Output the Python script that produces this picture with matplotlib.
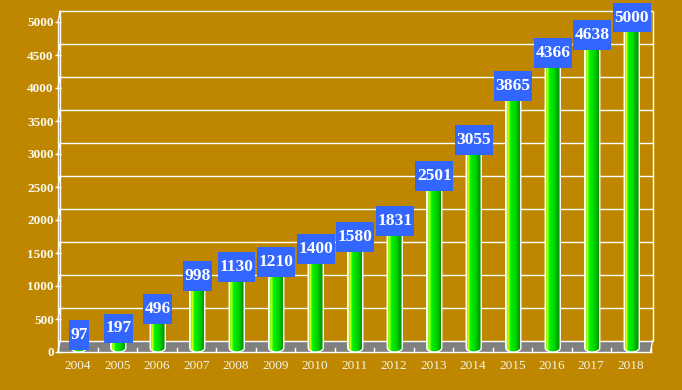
import numpy as np
import matplotlib
matplotlib.use("Agg")
import matplotlib.pyplot as plt
from matplotlib.path import Path
from matplotlib.patches import PathPatch, Polygon
from matplotlib.colors import LinearSegmentedColormap

years = ["2004", "2005", "2006", "2007", "2008", "2009", "2010", "2011",
         "2012", "2013", "2014", "2015", "2016", "2017", "2018"]
values = [97, 197, 496, 998, 1130, 1210, 1400, 1580,
          1831, 2501, 3055, 3865, 4366, 4638, 5000]
yticks = [0, 500, 1000, 1500, 2000, 2500, 3000, 3500, 4000, 4500, 5000]

BG = "#BF8700"
W, H = 682, 390


def label_box(x0, y0, width, height, mutation_size):
    # narrow side padding, taller top/bottom padding
    px, py = 0.09 * mutation_size, 0.4 * mutation_size
    x0, y0 = x0 - px, y0 - py
    x1, y1 = x0 + width + 2 * px, y0 + height + 2 * py
    return Path([(x0, y0), (x1, y0), (x1, y1), (x0, y1), (x0, y0)], closed=True)


fig = plt.figure(figsize=(W / 100, H / 100), dpi=100, facecolor=BG)
# front plane of the pseudo-3d box, in pixels
left, right, bottom, top = 58, 650.5, 352, 22
ax = fig.add_axes([left / W, (H - bottom) / H, (right - left) / W, (bottom - top) / H])
ax.set_facecolor("none")
ax.set_xlim(-0.5, len(years) - 0.5)
ax.set_ylim(0, 5000)

# data units per pixel
ux = len(years) / (right - left)
uy = 5000 / (bottom - top)
bdx, bdy = 2 * ux, 11 * uy      # depth offset of back wall
mdx = 1 * ux                    # bars sit mid-depth

n = len(years)
xa, xb = -0.5, n - 0.5

# floor
floor = Polygon([(xa, 0), (xb, 0), (xb + bdx, bdy), (xa + bdx, bdy)],
                closed=True, fc="#808080", ec="none", zorder=1, clip_on=False)
ax.add_patch(floor)

# back wall grid
ax.hlines([t + bdy for t in yticks], xa + bdx, xb + bdx, color="white",
          lw=1, zorder=1.5, clip_on=False)
ax.vlines([xa + bdx, xb + bdx], bdy, 5000 + bdy, color="white", lw=1,
          zorder=1.5, clip_on=False)
for t in yticks:
    ax.plot([xa, xa + bdx], [t, t + bdy], color="white", lw=1, zorder=1.5,
            clip_on=False)
ax.plot([xb, xb + bdx], [0, bdy], color="white", lw=1, zorder=1.5, clip_on=False)

# floor ticks at category boundaries
for k in range(n + 1):
    ax.plot([xa + k, xa + k], [0, 4 * uy], color="white", lw=1, zorder=2,
            clip_on=False)

# cylinder gradient
cmap = LinearSegmentedColormap.from_list("cyl", [
    (0.0, (1, 1, 1)), (0.08, (0.3, 1, 0)), (0.16, (1, 1, 0)),
    (0.24, (0.2, 1, 0)), (0.32, (0, 0.95, 0)), (0.6, (0, 0.85, 0)),
    (1.0, (0, 0.55, 0))])
grad = np.linspace(0, 1, 64).reshape(1, -1)

hw = 7.5 * ux
eh = 4 * uy
theta = np.linspace(np.pi, 2 * np.pi, 30)
for i, v in enumerate(values):
    xc = i + mdx
    ytop = v + 8 * uy
    verts = [(xc - hw, ytop), (xc - hw, eh)]
    verts += [(xc + hw * np.cos(a), eh + eh * np.sin(a)) for a in theta]
    verts += [(xc + hw, ytop), (xc - hw, ytop)]
    path = Path(verts)
    patch = PathPatch(path, fc="none", ec="white", lw=1, zorder=3.2, clip_on=False)
    ax.add_patch(patch)
    im = ax.imshow(grad, cmap=cmap, aspect="auto", extent=[xc - hw, xc + hw, 0, ytop],
                   zorder=3, interpolation="bilinear")
    im.set_clip_path(patch)
    ax.text(xc, min(v + 10.5 * uy, 5000 + 4.5 * uy), str(v), ha="center",
            va="center", color="white", fontsize=12.5, fontweight="bold",
            family="Liberation Serif", zorder=5, clip_on=False,
            bbox=dict(boxstyle=label_box, fc="#3366FF", ec="none"))

ax.set_xlim(xa, xb)
ax.set_ylim(0, 5000)

for s in ["top", "right"]:
    ax.spines[s].set_visible(False)
for s in ["left", "bottom"]:
    ax.spines[s].set_color("white")
    ax.spines[s].set_linewidth(1)
    ax.spines[s].set_zorder(2.5)

ax.set_xticks(range(n))
ax.set_xticklabels(years, family="Liberation Serif", fontsize=9.5, color="#F4F4E8")
ax.tick_params(axis="x", length=0, pad=5.5)
ax.set_yticks(yticks)
ax.set_yticklabels([str(t) for t in yticks], family="Liberation Serif",
                   fontsize=9.5, fontweight="bold", color="#FAFAF0")
ax.tick_params(axis="y", direction="inout", length=4, width=1, color="white", pad=1)

fig.savefig("out.png", dpi=100, facecolor=BG)
